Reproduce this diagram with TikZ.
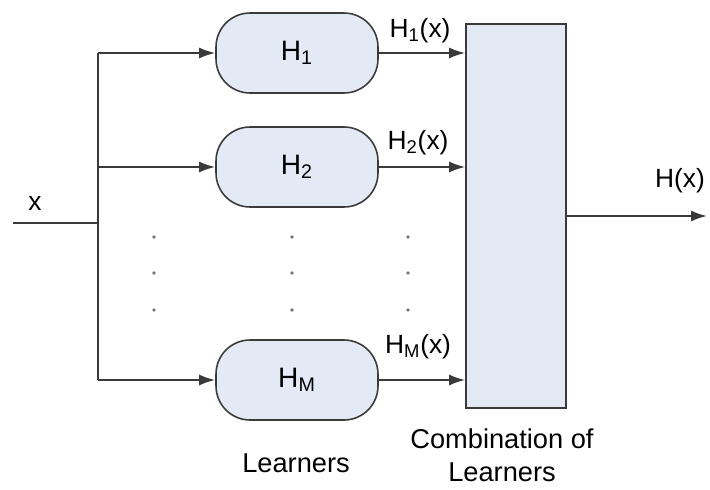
\documentclass[tikz,border=0pt]{standalone}
\usepackage{fontspec}
\setmainfont{Liberation Sans}
\usetikzlibrary{arrows.meta}
\definecolor{boxfill}{HTML}{E3EAF5}
\definecolor{linegray}{HTML}{3A3A3A}
\begin{document}
\begin{tikzpicture}[x=0.02cm,y=-0.02cm,
  wire/.style={draw=linegray,line width=1.1pt},
  arr/.style={wire,-{Latex[length=0.32cm,width=0.22cm]}},
  learner/.style={draw=linegray,line width=0.9pt,fill=boxfill,rounded corners=0.68cm,
    minimum width=3.24cm,minimum height=1.6cm,inner sep=0pt,
    font=\fontsize{16}{18}\selectfont},
  combiner/.style={draw=linegray,line width=0.9pt,fill=boxfill,
    minimum width=2cm,minimum height=7.68cm,inner sep=0pt},
  lbl/.style={font=\fontsize{15}{17}\selectfont,inner sep=1pt},
  caption/.style={font=\fontsize{15.5}{19}\selectfont,align=center},
  vdot/.style={circle,fill=linegray!70,inner sep=0pt,minimum size=2.2pt}]
\useasboundingbox (0,0) rectangle (710,490);

% learners and combiner
\node[learner] (h1) at (297,53) {H\textsubscript{1}};
\node[learner] (h2) at (297,167) {H\textsubscript{2}};
\node[learner] (hm) at (297,380) {H\textsubscript{M}};
\node[combiner] (comb) at (516,216) {};

% input and distribution line
\coordinate (in) at (13,223);
\coordinate (split) at (98,223);
\coordinate (top) at (98,53);
\coordinate (mid) at (98,167);
\coordinate (bot) at (98,380);
\coordinate (out) at (707,216);
\draw[wire] (in) -- (split);
\draw[wire] (top) -- (bot);
\draw[arr] (top) -- (h1.west);
\draw[arr] (mid) -- (h2.west);
\draw[arr] (bot) -- (hm.west);
\node[lbl] (xin) at (35,204) {x};

% learner outputs
\draw[arr] (h1.east) -- (h1.east -| comb.west);
\draw[arr] (h2.east) -- (h2.east -| comb.west);
\draw[arr] (hm.east) -- (hm.east -| comb.west);
\node[lbl] (l1) at (420,31) {H\textsubscript{1}(x)};
\node[lbl] (l2) at (418,143) {H\textsubscript{2}(x)};
\node[lbl] (lm) at (418,347) {H\textsubscript{M}(x)};

% combined output
\draw[arr] (comb.east |- out) -- (out);
\node[lbl] (hx) at (680,181) {H(x)};

% ellipsis dots
\foreach \cx/\nm in {154/a,292/b,408/c}
  \foreach \cy/\r in {237/1,273/2,310/3}
    \node[vdot] (d\nm\r) at (\cx,\cy) {};

% captions
\node[caption] (cl) at (296,463) {Learners};
\node[caption] (cc) at (502,455) {Combination of\\Learners};
\end{tikzpicture}
\end{document}
